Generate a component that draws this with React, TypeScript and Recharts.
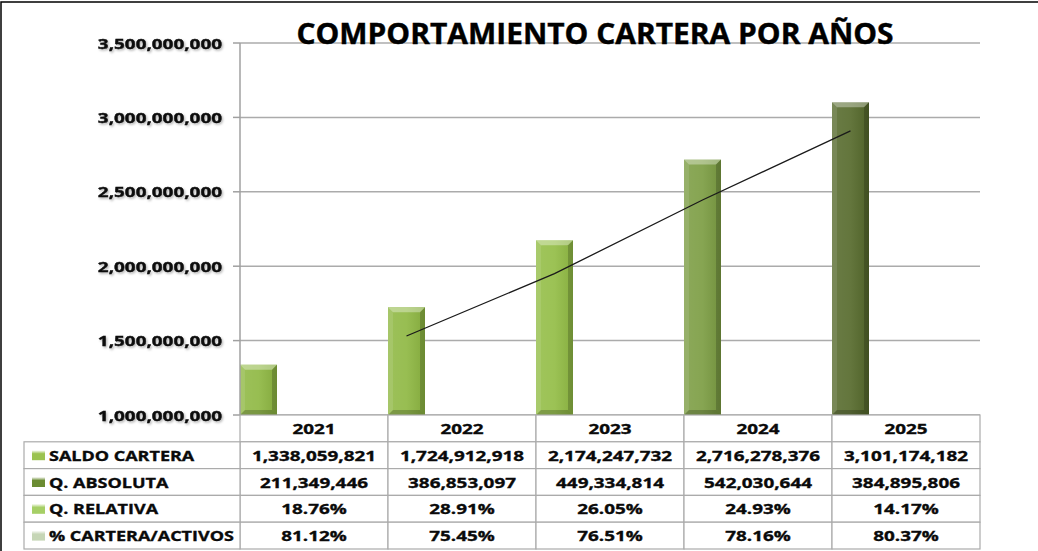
import React from 'react';
import { ComposedChart, Bar, Line, XAxis, YAxis, CartesianGrid, Cell } from 'recharts';

// ---------- data ----------
const years = ['2021', '2022', '2023', '2024', '2025'];
const saldoCartera = [1338059821, 1724912918, 2174247732, 2716278376, 3101174182];
const qAbsoluta = [211349446, 386853097, 449334814, 542030644, 384895806];
const qRelativa = [18.76, 28.91, 26.05, 24.93, 14.17];
const carteraActivos = [81.12, 75.45, 76.51, 78.16, 80.37];
// 2-period moving-average trend line
const trendValues: (number | null)[] = [null, 1531000000, 1950000000, 2445000000, 2909000000];
const yTicks = [1000000000, 1500000000, 2000000000, 2500000000, 3000000000, 3500000000];
const rowLabels = ['SALDO CARTERA', 'Q. ABSOLUTA', 'Q. RELATIVA', '% CARTERA/ACTIVOS'];
const chartTitle = 'COMPORTAMIENTO CARTERA POR AÑOS';

// ---------- styling ----------
const W = 1038;
const H = 551;
const PLOT_LEFT = 240;
const PLOT_RIGHT = 980;
const PLOT_TOP = 43;
const PLOT_BOTTOM = 415;
const PLOT_W = PLOT_RIGHT - PLOT_LEFT;
const ROW_H = 26.8;
const TABLE_LEFT = 24;
const GRID = '#ababab';
const FONT = "'Open Sans', sans-serif";
const FS = 15;
const SX_NUM = 1.26;
const SX_LAB = 1.2;
const barColors = ['#8fb843', '#8fb843', '#93bd46', '#7c9d43', '#566a2c'];
const seriesColors = ['#9bc34f', '#6b8c32', '#a6cf66', '#c6d6b6'];

const fmtInt = (v: number) => v.toLocaleString('en-US');
const fmtPct = (v: number) => v.toFixed(2) + '%';

const rowValues: string[][] = [
  saldoCartera.map(fmtInt),
  qAbsoluta.map(fmtInt),
  qRelativa.map(fmtPct),
  carteraActivos.map(fmtPct),
];

const data = years.map((year, i) => ({
  year,
  idx: i,
  saldo: saldoCartera[i],
  abs: qAbsoluta[i],
  rel: qRelativa[i] / 100,
  pct: carteraActivos[i] / 100,
  trend: trendValues[i],
}));

const SText = ({ x, y, anchor = 'middle', size = FS, sx = SX_NUM, children, filter, fill = '#0a0a0a', sw = 0.35 }: any) => (
  <text
    transform={`translate(${x} ${y}) scale(${sx} 1)`}
    textAnchor={anchor}
    fontSize={size}
    fontWeight={700}
    fontFamily={FONT}
    fill={fill}
    stroke={fill}
    strokeWidth={sw}
    filter={filter}
  >
    {children}
  </text>
);

const YTick = (props: any) => {
  const { x, y, payload } = props;
  return (
    <SText x={x} y={y + 5.5} anchor="end" filter="url(#txtShadow)">
      {fmtInt(payload.value)}
    </SText>
  );
};

const TableColumn = (props: any) => {
  const { x, y, payload } = props;
  const i = payload.index;
  const colW = PLOT_W / years.length;
  const left = x - colW / 2;
  const top = y;
  const cells = [];
  cells.push(
    <rect key="h" x={left} y={top} width={colW} height={ROW_H} fill="#fff" stroke={GRID} strokeWidth={1.2} />
  );
  cells.push(
    <SText key="ht" x={x} y={top + ROW_H / 2 + 5.5}>
      {payload.value}
    </SText>
  );
  rowValues.forEach((vals, r) => {
    const ry = top + ROW_H * (r + 1);
    cells.push(<rect key={'r' + r} x={left} y={ry} width={colW} height={ROW_H} fill="#fff" stroke={GRID} strokeWidth={1.2} />);
    cells.push(
      <SText key={'t' + r} x={x} y={ry + ROW_H / 2 + 5.5}>
        {vals[i]}
      </SText>
    );
  });
  if (i === 0) {
    rowLabels.forEach((lab, r) => {
      const ry = top + ROW_H * (r + 1);
      cells.push(
        <rect key={'lr' + r} x={TABLE_LEFT} y={ry} width={left - TABLE_LEFT} height={ROW_H} fill="#fff" stroke={GRID} strokeWidth={1.2} />
      );
      cells.push(
        <rect key={'lk' + r} x={TABLE_LEFT + 8} y={ry + ROW_H / 2 - 5} width={13} height={10} fill={`url(#key${r})`} />
      );
      cells.push(
        <SText key={'lt' + r} x={TABLE_LEFT + 25} y={ry + ROW_H / 2 + 5.5} anchor="start" sx={SX_LAB}>
          {lab}
        </SText>
      );
    });
  }
  return <g>{cells}</g>;
};

const BevelBar = (props: any) => {
  const { x, y, width, height, fill } = props;
  if (!(height > 0) || !(width > 0)) return null;
  const b = Math.min(5, height / 2);
  return (
    <g>
      <rect x={x} y={y} width={width} height={height} fill={fill} />
      <rect x={x} y={y} width={width} height={height} fill="url(#barShine)" />
      <polygon points={`${x},${y} ${x + width},${y} ${x + width - b},${y + b} ${x + b},${y + b}`} fill="#fff" opacity={0.35} />
      <polygon points={`${x},${y} ${x + b},${y + b} ${x + b},${y + height - b} ${x},${y + height}`} fill="#fff" opacity={0.1} />
      <polygon points={`${x + width},${y} ${x + width - b},${y + b} ${x + width - b},${y + height - b} ${x + width},${y + height}`} fill="#000" opacity={0.18} />
      <polygon points={`${x},${y + height} ${x + b},${y + height - b} ${x + width - b},${y + height - b} ${x + width},${y + height}`} fill="#000" opacity={0.2} />
    </g>
  );
};

export default function App() {
  const titleX = 595;
  const titleY = 44;
  return (
    <div style={{ position: 'absolute', left: 0, top: 0, width: W, height: H, background: '#fff' }}>
      <svg width={0} height={0} style={{ position: 'absolute' }}>
        <defs>
          <linearGradient id="barShine" x1="0" y1="0" x2="1" y2="0">
            <stop offset="0" stopColor="#fff" stopOpacity={0.12} />
            <stop offset="0.5" stopColor="#fff" stopOpacity={0.08} />
            <stop offset="1" stopColor="#000" stopOpacity={0.08} />
          </linearGradient>
          {seriesColors.map((c, i) => (
            <linearGradient key={i} id={`key${i}`} x1="0" y1="0" x2="0" y2="1">
              <stop offset="0" stopColor="#fff" stopOpacity={1} />
              <stop offset="0.35" stopColor={c} />
              <stop offset="1" stopColor={c} />
            </linearGradient>
          ))}
          <filter id="txtShadow" x="-10%" y="-50%" width="120%" height="200%">
            <feDropShadow dx="1" dy="1.5" stdDeviation="1" floodColor="#000" floodOpacity="0.3" />
          </filter>
          <linearGradient id="reflGrad" x1="0" y1="0" x2="0" y2="1">
            <stop offset="0" stopColor="#000" stopOpacity={0} />
            <stop offset="0.55" stopColor="#000" stopOpacity={0} />
            <stop offset="1" stopColor="#000" stopOpacity={0.35} />
          </linearGradient>
          <clipPath id="reflClip">
            <rect x={0} y={titleY} width={W} height={9} />
          </clipPath>
        </defs>
      </svg>
      <ComposedChart
        width={W}
        height={H}
        data={data}
        margin={{ top: PLOT_TOP, right: W - PLOT_RIGHT, bottom: 2, left: 0 }}
        barCategoryGap={0}
        barGap={0}
      >
        <CartesianGrid horizontal vertical={false} stroke={GRID} strokeWidth={1.5} />
        <XAxis
          xAxisId="cat"
          dataKey="year"
          height={H - PLOT_BOTTOM - 2}
          axisLine={false}
          tickLine={false}
          tickSize={0}
          tickMargin={0}
          interval={0}
          tick={(p: any) => <TableColumn {...p} />}
        />
        <XAxis
          xAxisId="line"
          type="number"
          dataKey="idx"
          domain={[-1 / 8, years.length - 1 / 8]}
          allowDataOverflow
          hide
        />
        <YAxis
          width={PLOT_LEFT}
          domain={[yTicks[0], yTicks[yTicks.length - 1]]}
          ticks={yTicks}
          allowDataOverflow
          axisLine={{ stroke: '#a0a0a0', strokeWidth: 1.5 }}
          tickLine={{ stroke: '#a0a0a0', strokeWidth: 1.5 }}
          tickSize={7}
          tickMargin={11}
          tick={(p: any) => <YTick {...p} />}
        />
        <Bar xAxisId="cat" dataKey="saldo" fill={seriesColors[0]} shape={(p: any) => <BevelBar {...p} />} isAnimationActive={false}>
          {years.map((y, i) => (
            <Cell key={y} fill={barColors[i]} />
          ))}
        </Bar>
        <Bar xAxisId="cat" dataKey="abs" fill={seriesColors[1]} shape={(p: any) => <BevelBar {...p} />} isAnimationActive={false} />
        <Bar xAxisId="cat" dataKey="rel" fill={seriesColors[2]} shape={(p: any) => <BevelBar {...p} />} isAnimationActive={false} />
        <Bar xAxisId="cat" dataKey="pct" fill={seriesColors[3]} shape={(p: any) => <BevelBar {...p} />} isAnimationActive={false} />
        <Line
          xAxisId="line"
          type="linear"
          dataKey="trend"
          stroke="#1a1a1a"
          strokeWidth={1.3}
          dot={false}
          activeDot={false}
          isAnimationActive={false}
        />
      </ComposedChart>
      <svg width={W} height={H} style={{ position: 'absolute', left: 0, top: 0, pointerEvents: 'none' }}>
        <rect x={1} y={2} width={W + 10} height={H + 10} fill="none" stroke="#000" strokeWidth={1.5} />
        <g clipPath="url(#reflClip)">
          <text
            transform={`translate(${titleX} ${titleY * 2}) scale(1.07 -1)`}
            textAnchor="middle"
            fontSize={28}
            fontWeight={700}
            fontFamily={FONT}
            fill="url(#reflGrad)"
          >
            {chartTitle}
          </text>
        </g>
        <SText x={titleX} y={titleY} size={28} sx={1.07} fill="#000" sw={0.4}>
          {chartTitle}
        </SText>
      </svg>
    </div>
  );
}
